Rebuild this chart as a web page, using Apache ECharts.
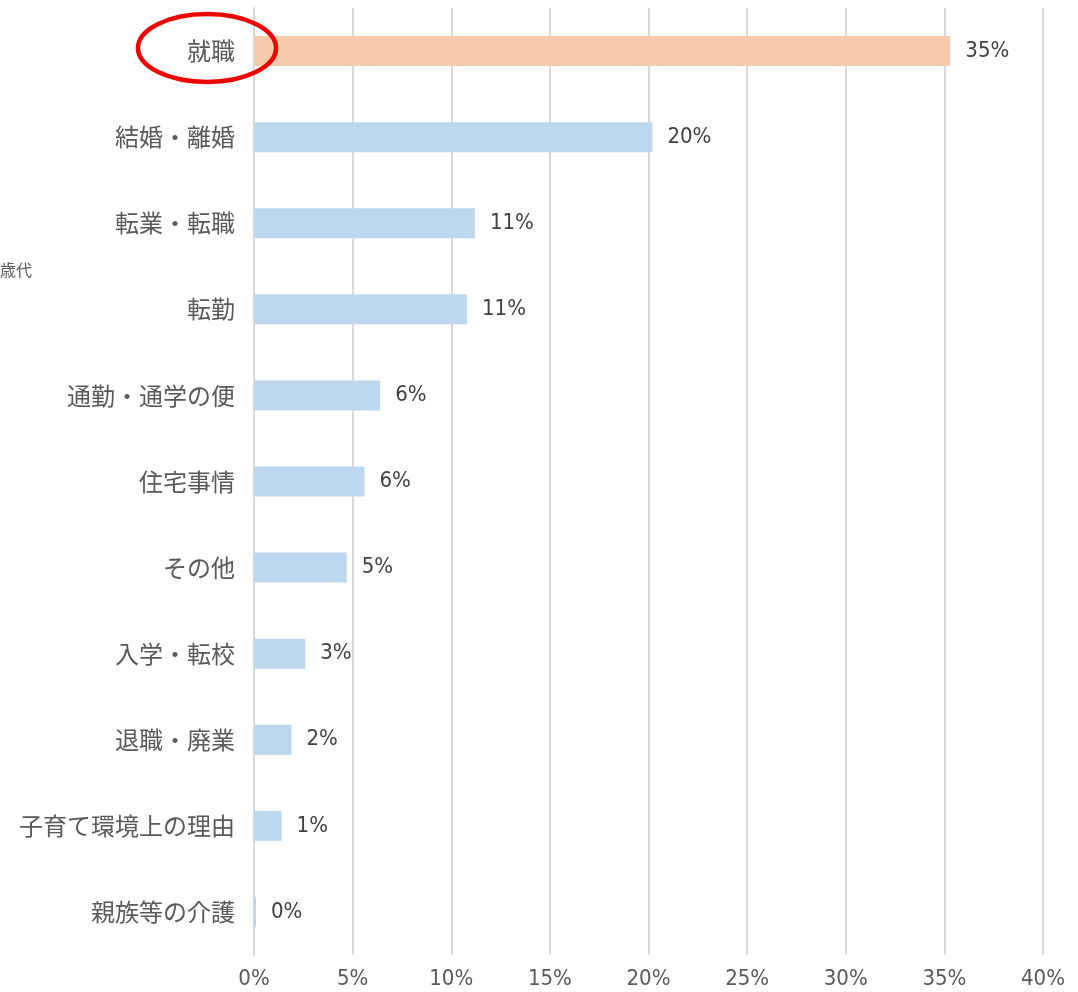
<!DOCTYPE html>
<html>
<head>
<meta charset="utf-8">
<script src="https://cdn.jsdelivr.net/npm/echarts@6/dist/echarts.min.js"></script>
<style>
  html, body { margin: 0; padding: 0; background: #fff; }
  #chart { width: 1078px; height: 992px; }
</style>
</head>
<body>
<div id="chart"></div>
<script>
// top to bottom as in the picture
const categories = ['就職', '結婚・離婚', '転業・転職', '転勤', '通勤・通学の便', '住宅事情', 'その他', '入学・転校', '退職・廃業', '子育て環境上の理由', '親族等の介護']
const shares = [35.3, 20.2, 11.2, 10.8, 6.4, 5.6, 4.7, 2.6, 1.9, 1.4, 0.1]
const highlightIndex = 0
const xTicks = [0, 5, 10, 15, 20, 25, 30, 35, 40]

const narrow = '"DejaVu Sans Condensed", "Liberation Sans Narrow", sans-serif'
const jp = '"Noto Sans CJK JP", sans-serif'

const chart = echarts.init(document.getElementById('chart'), null, { renderer: 'canvas' })

chart.setOption({
  animation: false,
  grid: { left: 254, right: 35, top: 8, bottom: 37, containLabel: false },
  xAxis: {
    type: 'value',
    min: xTicks[0],
    max: xTicks[xTicks.length - 1],
    interval: 5,
    axisLine: { show: false },
    axisTick: { show: false },
    splitLine: { lineStyle: { color: '#d9d9d9', width: 2 } },
    axisLabel: {
      color: '#595959',
      fontSize: 22,
      fontFamily: narrow,
      margin: 13,
      formatter: v => v + '%',
    },
  },
  yAxis: {
    type: 'category',
    inverse: true,
    data: categories,
    axisLine: { show: true, lineStyle: { color: '#d9d9d9', width: 2 } },
    axisTick: { show: false },
    axisLabel: { color: '#595959', fontSize: 24, fontFamily: jp, margin: 19 },
  },
  series: [{
    type: 'bar',
    barWidth: 30,
    data: shares.map((v, i) => ({
      value: v,
      itemStyle: { color: i === highlightIndex ? '#f8cbad' : '#bdd7ee' },
    })),
    label: {
      show: true,
      position: 'right',
      distance: 15,
      color: '#404040',
      fontSize: 22,
      fontFamily: narrow,
      formatter: p => Math.round(p.value) + '%',
    },
  }],
  graphic: [
    {
      type: 'ellipse',
      shape: { cx: 207, cy: 48, rx: 69, ry: 34 },
      style: { fill: 'none', stroke: '#ee0000', lineWidth: 4.5 },
      z: 100,
    },
    {
      type: 'text',
      left: 0,
      top: 262,
      style: { text: '歳代', fill: '#595959', font: '16px "Noto Sans CJK JP", sans-serif' },
    },
  ],
})
</script>
</body>
</html>
